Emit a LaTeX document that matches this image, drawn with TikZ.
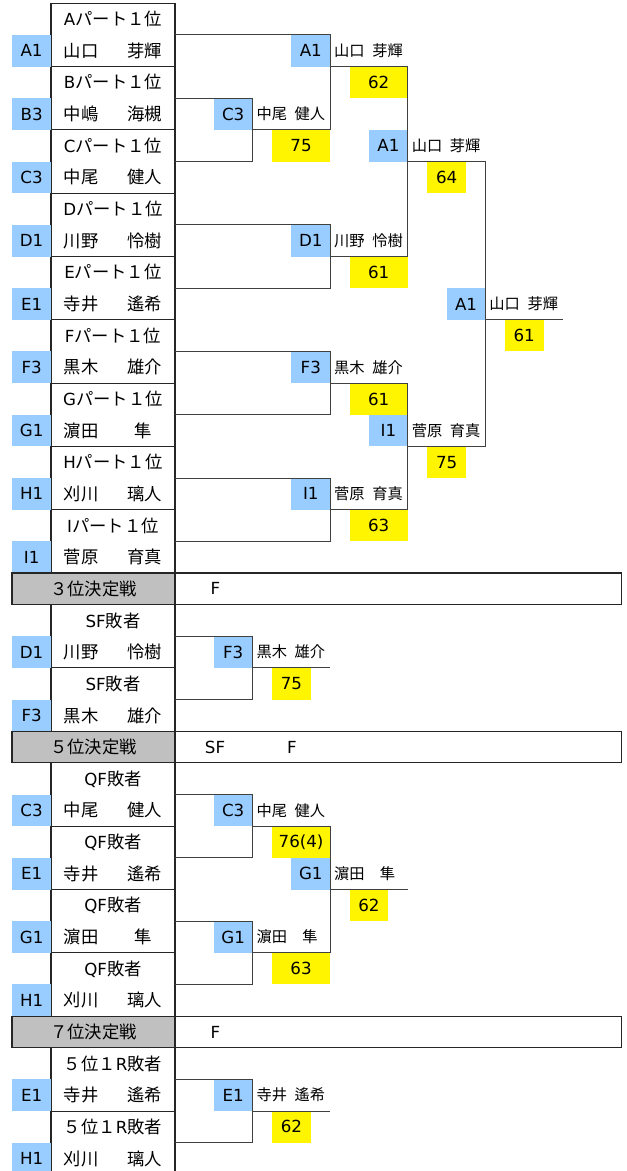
\documentclass[tikz,border=0pt]{standalone}
\usepackage{fontspec}
\setmainfont{DejaVu Sans}
\newfontfamily\jp[Scale=1.04]{Noto Sans CJK JP}
\usetikzlibrary{positioning}
\definecolor{cellblue}{HTML}{99CCFF}
\definecolor{cellyellow}{HTML}{FFF500}
\definecolor{cellgray}{HTML}{C0C0C0}
\tikzset{
  box/.style={draw=black!85, line width=0.8pt, minimum width=93pt, minimum height=47.475pt, inner sep=0pt, outer sep=0pt, align=center, font=\fontsize{12.5pt}{23.7375pt}\selectfont},
  seedcell/.style={fill=cellblue, minimum width=29.1pt, minimum height=23.7375pt, inner sep=0pt, outer sep=0pt, font=\fontsize{12.5pt}{15pt}\selectfont},
  winner/.style={text width=52.2pt, inner xsep=3pt, inner ysep=0pt, outer sep=0pt, minimum height=23.7375pt, align=left, font=\fontsize{11pt}{13pt}\selectfont\jp},
  score/.style={fill=cellyellow, minimum width=29.1pt, minimum height=23.7375pt, inner sep=0pt, outer sep=0pt, font=\fontsize{12.5pt}{15pt}\selectfont},
  longscore/.style={score, minimum width=43.65pt},
  rankcell/.style={draw=black!85, line width=0.8pt, fill=cellgray, minimum width=122.25pt, minimum height=23.7375pt, inner sep=0pt, outer sep=0pt, font=\fontsize{12.5pt}{15pt}\selectfont\jp},
  rankbar/.style={draw=black!85, line width=0.8pt, minimum width=334.65pt, minimum height=23.7375pt, inner sep=0pt, outer sep=0pt},
  bracket/.style={draw=black!75, line width=0.8pt},
  plain/.style={font=\fontsize{12.5pt}{15pt}\selectfont, inner sep=0pt}
}
\begin{document}
\begin{tikzpicture}[x=0.75pt, y=-0.75pt]
\fill[white] (0,0) rectangle (627,1171);
\useasboundingbox (0,0) rectangle (627,1171);

\node[box] (pA) at (113,34.95) {A{\jp パート１位}\\{\jp\makebox[74pt]{山口\hfill 芽輝}}};
\node[box] (pB) at (113,98.25) {B{\jp パート１位}\\{\jp\makebox[74pt]{中嶋\hfill 海槻}}};
\node[box] (pC) at (113,161.55) {C{\jp パート１位}\\{\jp\makebox[74pt]{中尾\hfill 健人}}};
\node[box] (pD) at (113,224.85) {D{\jp パート１位}\\{\jp\makebox[74pt]{川野\hfill 怜樹}}};
\node[box] (pE) at (113,288.15) {E{\jp パート１位}\\{\jp\makebox[74pt]{寺井\hfill 遙希}}};
\node[box] (pF) at (113,351.45) {F{\jp パート１位}\\{\jp\makebox[74pt]{黒木\hfill 雄介}}};
\node[box] (pG) at (113,414.75) {G{\jp パート１位}\\{\jp\makebox[74pt]{濵田\hfill 隼\hspace{7.5pt}}}};
\node[box] (pH) at (113,478.05) {H{\jp パート１位}\\{\jp\makebox[74pt]{刈川\hfill 璃人}}};
\node[box] (pI) at (113,541.35) {I{\jp パート１位}\\{\jp\makebox[74pt]{菅原\hfill 育真}}};
\node[seedcell, below left=0pt of pA.west] (lA) {A1};
\node[seedcell, below left=0pt of pB.west] (lB) {B3};
\node[seedcell, below left=0pt of pC.west] (lC) {C3};
\node[seedcell, below left=0pt of pD.west] (lD) {D1};
\node[seedcell, below left=0pt of pE.west] (lE) {E1};
\node[seedcell, below left=0pt of pF.west] (lF) {F3};
\node[seedcell, below left=0pt of pG.west] (lG) {G1};
\node[seedcell, below left=0pt of pH.west] (lH) {H1};
\node[seedcell, below left=0pt of pI.west] (lI) {I1};

\node[winner] (r1C) at (291.4,114.08) {中尾\enspace 健人};
\node[seedcell, left=0pt of r1C] (lr1C) {C3};
\node[longscore, below right=0pt and 14.55pt of r1C.south west] (sr1C) {75};
\node[winner] (qA) at (369,50.78) {山口\enspace 芽輝};
\node[seedcell, left=0pt of qA] (lqA) {A1};
\node[longscore, below right=0pt and 14.55pt of qA.south west] (sqA) {62};
\node[winner] (qD) at (369,240.68) {川野\enspace 怜樹};
\node[seedcell, left=0pt of qD] (lqD) {D1};
\node[longscore, below right=0pt and 14.55pt of qD.south west] (sqD) {61};
\node[winner] (qF) at (369,367.28) {黒木\enspace 雄介};
\node[seedcell, left=0pt of qF] (lqF) {F3};
\node[longscore, below right=0pt and 14.55pt of qF.south west] (sqF) {61};
\node[winner] (qI) at (369,493.88) {菅原\enspace 育真};
\node[seedcell, left=0pt of qI] (lqI) {I1};
\node[longscore, below right=0pt and 14.55pt of qI.south west] (sqI) {63};
\node[winner] (sA) at (446.6,145.73) {山口\enspace 芽輝};
\node[seedcell, left=0pt of sA] (lsA) {A1};
\node[score, below right=0pt and 14.55pt of sA.south west] (ssA) {64};
\node[winner] (sI) at (446.6,430.58) {菅原\enspace 育真};
\node[seedcell, left=0pt of sI] (lsI) {I1};
\node[score, below right=0pt and 14.55pt of sI.south west] (ssI) {75};
\node[winner] (fA) at (524.2,303.98) {山口\enspace 芽輝};
\node[seedcell, left=0pt of fA] (lfA) {A1};
\node[score, below right=0pt and 14.55pt of fA.south west] (sfA) {61};

\draw[bracket] (pB.east) -| (r1C.west |- pC.east) -- (pC.east);
\draw[bracket] (pA.east) -| (r1C.south east) -- (r1C.south west);
\draw[bracket] (pD.east) -| (qD.west |- pE.east) -- (pE.east);
\draw[bracket] (pF.east) -| (qF.west |- pG.east) -- (pG.east);
\draw[bracket] (pH.east) -| (qI.west |- pI.east) -- (pI.east);
\draw[bracket] (qA.south west) -- (qA.south east) -- (qD.south east) -- (qD.south west);
\draw[bracket] (qF.south west) -- (qF.south east) -- (qI.south east) -- (qI.south west);
\draw[bracket] (sA.south west) -- (sA.south east) -- (sI.south east) -- (sI.south west);
\draw[bracket] (fA.south west) -- (fA.south east);

\node[rankcell] (k3) at (93.5,588.83) {３位決定戦};
\node[rankbar, right=0pt of k3] (k3b) {};
\node[plain] (k3f) at (215.5,588.83) {F};

\node[box] (p5D) at (113,636.3) {SF{\jp 敗者}\\{\jp\makebox[74pt]{川野\hfill 怜樹}}};
\node[box] (p5F) at (113,699.6) {SF{\jp 敗者}\\{\jp\makebox[74pt]{黒木\hfill 雄介}}};
\node[seedcell, below left=0pt of p5D.west] (l5D) {D1};
\node[seedcell, below left=0pt of p5F.west] (l5F) {F3};
\node[winner] (r5F) at (291.4,652.13) {黒木\enspace 雄介};
\node[seedcell, left=0pt of r5F] (lr5F) {F3};
\node[score, below right=0pt and 14.55pt of r5F.south west] (sr5F) {75};
\draw[bracket] (p5D.east) -| (r5F.west |- p5F.east) -- (p5F.east);
\draw[bracket] (r5F.south west) -- (r5F.south east);

\node[rankcell] (k5) at (93.5,747.08) {５位決定戦};
\node[rankbar, right=0pt of k5] (k5b) {};
\node[plain] (k5s) at (215,747.08) {SF};
\node[plain] (k5f) at (292,747.08) {F};

\node[box] (p7C) at (113,794.55) {QF{\jp 敗者}\\{\jp\makebox[74pt]{中尾\hfill 健人}}};
\node[box] (p7E) at (113,857.85) {QF{\jp 敗者}\\{\jp\makebox[74pt]{寺井\hfill 遙希}}};
\node[box] (p7G) at (113,921.15) {QF{\jp 敗者}\\{\jp\makebox[74pt]{濵田\hfill 隼\hspace{7.5pt}}}};
\node[box] (p7H) at (113,984.45) {QF{\jp 敗者}\\{\jp\makebox[74pt]{刈川\hfill 璃人}}};
\node[seedcell, below left=0pt of p7C.west] (l7C) {C3};
\node[seedcell, below left=0pt of p7E.west] (l7E) {E1};
\node[seedcell, below left=0pt of p7G.west] (l7G) {G1};
\node[seedcell, below left=0pt of p7H.west] (l7H) {H1};
\node[winner] (r7C) at (291.4,810.38) {中尾\enspace 健人};
\node[seedcell, left=0pt of r7C] (lr7C) {C3};
\node[longscore, below right=0pt and 14.55pt of r7C.south west] (sr7C) {76(4)};
\node[winner] (r7G) at (291.4,936.98) {濵田　隼};
\node[seedcell, left=0pt of r7G] (lr7G) {G1};
\node[longscore, below right=0pt and 14.55pt of r7G.south west] (sr7G) {63};
\node[winner] (q7G) at (369,873.68) {濵田　隼};
\node[seedcell, left=0pt of q7G] (lq7G) {G1};
\node[score, below right=0pt and 14.55pt of q7G.south west] (sq7G) {62};
\draw[bracket] (p7C.east) -| (r7C.west |- p7E.east) -- (p7E.east);
\draw[bracket] (p7G.east) -| (r7G.west |- p7H.east) -- (p7H.east);
\draw[bracket] (r7C.south west) -- (r7C.south east) -- (r7G.south east) -- (r7G.south west);
\draw[bracket] (q7G.south west) -- (q7G.south east);

\node[rankcell] (k7) at (93.5,1031.93) {７位決定戦};
\node[rankbar, right=0pt of k7] (k7b) {};
\node[plain] (k7f) at (215.5,1031.93) {F};

\node[box] (p9E) at (113,1079.4) {{\jp ５位１}R{\jp 敗者}\\{\jp\makebox[74pt]{寺井\hfill 遙希}}};
\node[box] (p9H) at (113,1142.7) {{\jp ５位１}R{\jp 敗者}\\{\jp\makebox[74pt]{刈川\hfill 璃人}}};
\node[seedcell, below left=0pt of p9E.west] (l9E) {E1};
\node[seedcell, below left=0pt of p9H.west] (l9H) {H1};
\node[winner] (r9E) at (291.4,1095.23) {寺井\enspace 遙希};
\node[seedcell, left=0pt of r9E] (lr9E) {E1};
\node[score, below right=0pt and 14.55pt of r9E.south west] (sr9E) {62};
\draw[bracket] (p9E.east) -| (r9E.west |- p9H.east) -- (p9H.east);
\draw[bracket] (r9E.south west) -- (r9E.south east);
\end{tikzpicture}
\end{document}
